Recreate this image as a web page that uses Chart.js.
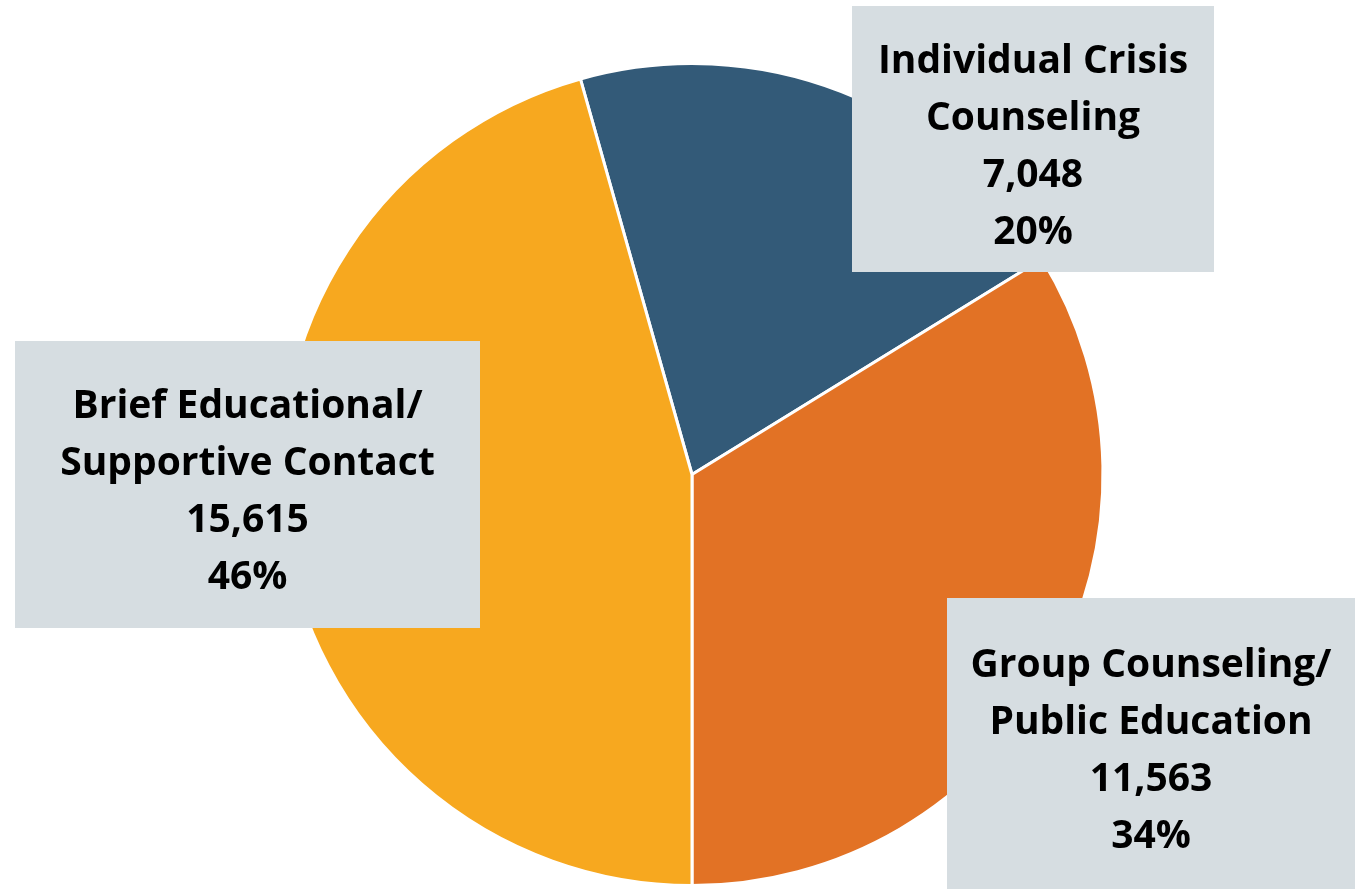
<!DOCTYPE html>
<html>
<head>
<meta charset="utf-8">
<script src="https://cdn.jsdelivr.net/npm/chart.js@4"></script>
<style>
  html, body { margin: 0; padding: 0; background: #fff; }
  #wrap { width: 1355px; height: 889px; }
</style>
</head>
<body>
<div id="wrap"><canvas id="pie" width="1355" height="889"></canvas></div>
<script>
// data
const categories = [
  ['Individual Crisis', 'Counseling'],
  ['Group Counseling/', 'Public Education'],
  ['Brief Educational/', 'Supportive Contact']
];
const counts = [7048, 11563, 15615];
const percents = ['20%', '34%', '46%'];
const colors = ['#335a78', '#e27225', '#f7a81f'];

// label box placement (x, y, w, h)
const boxes = [
  [852, 6, 362, 266],
  [947, 598, 408, 291],
  [15, 341, 465, 287]
];

const total = counts.reduce((a, b) => a + b, 0);
// orange slice ends straight down in the reference
const rotation = 180 - 360 * (counts[0] + counts[1]) / total;

const labelBoxes = {
  id: 'labelBoxes',
  afterDraw(chart) {
    const ctx = chart.ctx;
    ctx.save();
    for (let i = 0; i < counts.length; i++) {
      const [x, y, w, h] = boxes[i];
      ctx.fillStyle = '#d6dde1';
      ctx.fillRect(x, y, w, h);
      const lines = categories[i].concat([
        counts[i].toLocaleString('en-US'),
        percents[i]
      ]);
      ctx.fillStyle = '#000';
      ctx.font = 'bold 39px "Open Sans", sans-serif';
      ctx.textAlign = 'center';
      ctx.textBaseline = 'middle';
      const lh = 57;
      const cy = y + h / 2 + 8 - lh * (lines.length - 1) / 2;
      lines.forEach((t, k) => ctx.fillText(t, x + w / 2, cy + k * lh));
    }
    ctx.restore();
  }
};

new Chart(document.getElementById('pie'), {
  type: 'pie',
  data: {
    labels: categories.map(c => c.join(' ')),
    datasets: [{
      data: counts,
      backgroundColor: colors,
      borderColor: '#ffffff',
      borderWidth: 3
    }]
  },
  options: {
    responsive: false,
    animation: false,
    rotation: rotation,
    layout: { padding: { top: 62, bottom: 2, left: 29, right: 0 } },
    plugins: {
      legend: { display: false },
      tooltip: { enabled: false }
    }
  },
  plugins: [labelBoxes]
});
</script>
</body>
</html>
